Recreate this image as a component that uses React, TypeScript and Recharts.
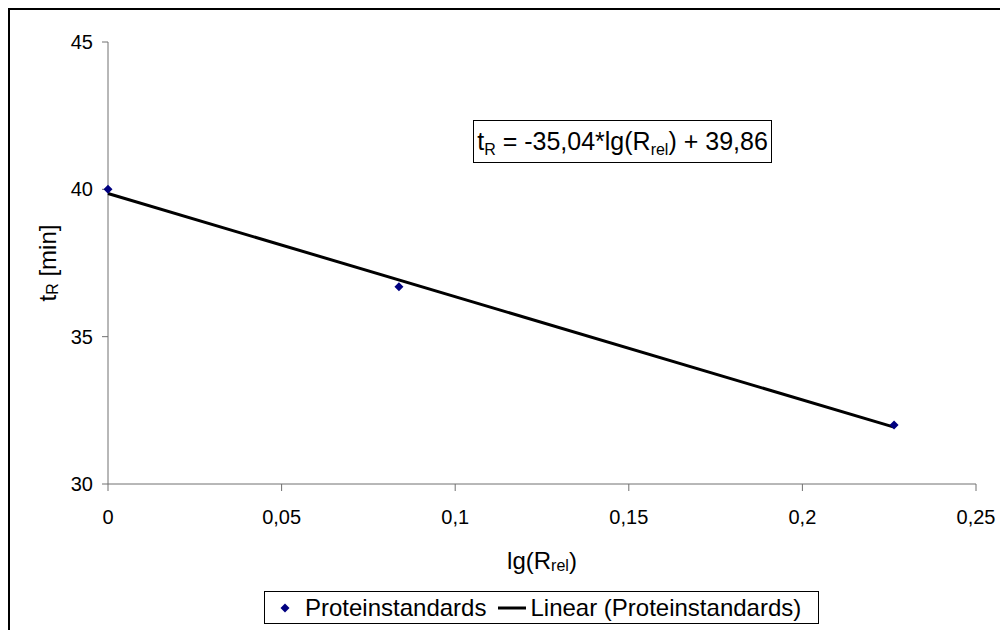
import React from 'react';
import { ComposedChart, Scatter, XAxis, YAxis, Label } from 'recharts';

const standards = [
  { x: 0, y: 40.0 },
  { x: 0.0838, y: 36.69 },
  { x: 0.2264, y: 32.0 },
];

// end points of the linear trend line, as drawn
const trend = [
  { x: 0, y: 39.86 },
  { x: 0.2264, y: 31.93 },
];

const xTicks = [0, 0.05, 0.1, 0.15, 0.2, 0.25];
const yTicks = [30, 35, 40, 45];

const FONT = '"Liberation Sans", Arial, sans-serif';
const AXIS = '#707070';

const fmt = (v: number) => String(v).replace('.', ',');

const Diamond = (props: any) => {
  const { cx, cy } = props;
  if (cx == null || cy == null) return <g />;
  const r = 4.5;
  return (
    <polygon
      points={`${cx},${cy - r} ${cx + r},${cy} ${cx},${cy + r} ${cx - r},${cy}`}
      fill="#000080"
    />
  );
};

const NoDot = () => <g />;

const YTitle = (props: any) => {
  const { viewBox } = props;
  const cx = viewBox.x + 37;
  const cy = viewBox.y + viewBox.height / 2;
  return (
    <text
      x={cx}
      y={cy}
      transform={`rotate(-90 ${cx} ${cy})`}
      textAnchor="middle"
      dominantBaseline="central"
      fontSize={24}
      fontFamily={FONT}
      fill="#000"
    >
      t<tspan fontSize={16} dy={5}>R</tspan>
      <tspan dy={-5}> [min]</tspan>
    </text>
  );
};

const XTitle = (props: any) => {
  const { viewBox } = props;
  const cx = viewBox.x + viewBox.width / 2;
  const cy = viewBox.y + 76;
  return (
    <text
      x={cx}
      y={cy}
      textAnchor="middle"
      dominantBaseline="central"
      fontSize={24}
      fontFamily={FONT}
      fill="#000"
    >
      lg(R<tspan fontSize={16} dy={5}>rel</tspan>
      <tspan dy={-5}>)</tspan>
    </text>
  );
};

const sub: React.CSSProperties = { fontSize: 16, verticalAlign: -5, lineHeight: 0 };

export default function App() {
  return (
    <div
      style={{
        position: 'relative',
        width: 1000,
        height: 622,
        borderTop: '2px solid #000',
        borderLeft: '2px solid #000',
        boxSizing: 'border-box',
        fontFamily: FONT,
        background: '#fff',
      }}
    >
      <style>{'html,body{overflow:hidden}'}</style>
      <ComposedChart
        width={998}
        height={620}
        margin={{ top: 32, right: 32, left: 0, bottom: 46 }}
      >
        <XAxis
          type="number"
          dataKey="x"
          domain={[0, 0.25]}
          ticks={xTicks}
          tickFormatter={fmt}
          height={100}
          stroke={AXIS}
          tickSize={7}
          tickMargin={19}
          tick={{ fill: '#000', fontSize: 20, fontFamily: FONT }}
        >
          <Label content={<XTitle />} />
        </XAxis>
        <YAxis
          type="number"
          dataKey="y"
          domain={[30, 45]}
          ticks={yTicks}
          width={98}
          stroke={AXIS}
          tickSize={6}
          tickMargin={9}
          tick={{ fill: '#000', fontSize: 20, fontFamily: FONT }}
        >
          <Label content={<YTitle />} />
        </YAxis>
        <Scatter
          data={trend}
          line={{ stroke: '#000', strokeWidth: 3 }}
          shape={<NoDot />}
          isAnimationActive={false}
        />
        <Scatter data={standards} shape={<Diamond />} isAnimationActive={false} />
      </ComposedChart>

      <div
        style={{
          position: 'absolute',
          left: 463,
          top: 110,
          width: 299,
          height: 43,
          border: '1px solid #000',
          boxSizing: 'border-box',
          background: '#fff',
          fontSize: 25,
          lineHeight: '41px',
          textAlign: 'center',
          whiteSpace: 'nowrap',
        }}
      >
        t<span style={sub}>R</span> = -35,04*lg(R<span style={sub}>rel</span>) + 39,86
      </div>

      <div
        style={{
          position: 'absolute',
          left: 254,
          top: 581,
          width: 555,
          height: 33,
          border: '1px solid #000',
          boxSizing: 'border-box',
          fontSize: 24,
          lineHeight: '31px',
          whiteSpace: 'nowrap',
          display: 'flex',
          alignItems: 'center',
        }}
      >
        <svg width={12} height={12} style={{ marginLeft: 14, marginRight: 14 }}>
          <polygon points="6,1.5 10.5,6 6,10.5 1.5,6" fill="#000080" />
        </svg>
        <span>Proteinstandards</span>
        <svg width={28} height={6} style={{ marginLeft: 12, marginRight: 4 }}>
          <line x1={0} y1={3} x2={28} y2={3} stroke="#000" strokeWidth={3} />
        </svg>
        <span>Linear (Proteinstandards)</span>
      </div>
    </div>
  );
}
